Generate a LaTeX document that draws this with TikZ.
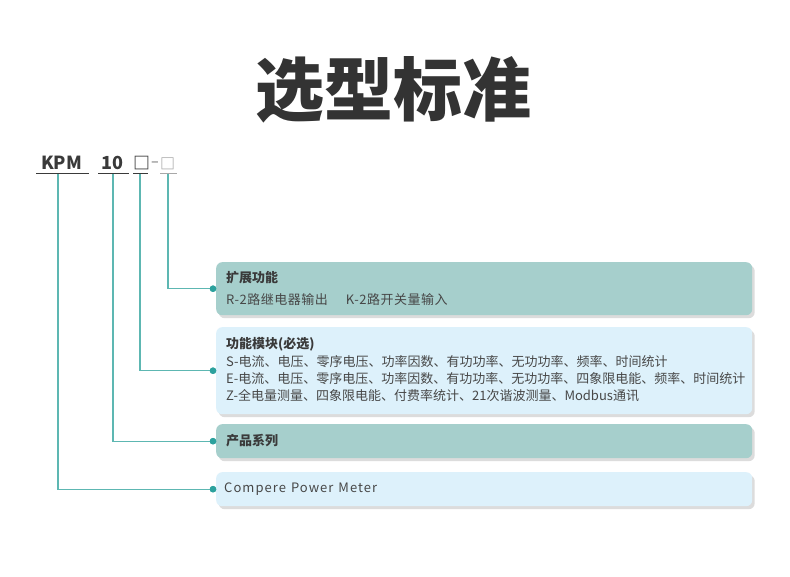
\documentclass[tikz,border=0pt]{standalone}
\usepackage{fontspec}
\setmainfont{Noto Sans CJK SC}
\usetikzlibrary{shadows}
\definecolor{tealbox}{HTML}{A6CFCC}
\definecolor{bluebox}{HTML}{DDF1FB}
\definecolor{lineteal}{HTML}{5DB7B2}
\definecolor{dotteal}{HTML}{2CA19D}
\definecolor{txt}{HTML}{474747}
\definecolor{titlec}{HTML}{333333}
\definecolor{hdr}{HTML}{3A3A3A}
\definecolor{lightg}{HTML}{A8A8A8}
\definecolor{shadowc}{HTML}{DCDCDC}
\tikzset{
  card/.style={rounded corners=6pt, inner sep=0pt, minimum width=536pt, anchor=north west,
    drop shadow={shadow xshift=2.5pt, shadow yshift=-3pt, fill=shadowc, opacity=1}},
  dotmark/.style={circle, fill=dotteal, inner sep=0pt, minimum size=6.5pt},
  conn/.style={draw=lineteal, line width=1.4pt},
  uline/.style={draw=#1, line width=1.6pt},
  body/.style={anchor=west, inner sep=0pt, text=txt, font=\fontsize{13}{13}\selectfont},
  head/.style={anchor=west, inner sep=0pt, text=hdr, font=\fontsize{13}{13}\selectfont\bfseries},
}
\begin{document}
\begin{tikzpicture}[x=1pt,y=-1pt]
\useasboundingbox[fill=white] (0,0) rectangle (790,577);

% title
\node[inner sep=0pt, text=titlec, font=\fontsize{69}{69}\selectfont\bfseries] (title) at (393,90) {选型标准};

% model code
\node[anchor=base west, inner sep=0pt, text=hdr, font=\fontsize{18}{18}\selectfont\bfseries] (kpm) at (41,170) {KPM};
\node[anchor=base west, inner sep=0pt, text=hdr, font=\fontsize{18}{18}\selectfont\bfseries] (ten) at (101,170) {10};
\node[inner sep=0pt, text=hdr, font=\fontsize{17}{17}\selectfont\bfseries] (sq1) at (141.5,163.5) {□};
\node[inner sep=0pt, text=lightg, font=\fontsize{14}{14}\selectfont\bfseries] (dash) at (155,164) {–};
\node[inner sep=0pt, text=lightg, font=\fontsize{15}{15}\selectfont\bfseries] (sq2) at (167.5,164) {□};

% underlines
\draw[uline=hdr] (36,173.5) -- (89,173.5);
\draw[uline=hdr] (98,173.5) -- (129,173.5);
\draw[uline=hdr] (133,173.5) -- (148,173.5);
\draw[uline=lightg] (160,173.5) -- (177,173.5);

\coordinate (cK) at (58,174.5);
\coordinate (cT) at (113,174.5);
\coordinate (cS) at (140,174.5);
\coordinate (cX) at (168,174.5);

% boxes
\node[card, fill=tealbox, minimum height=53pt] (b1) at (216,262) {};
\node[card, fill=bluebox, minimum height=87pt] (b2) at (216,327) {};
\node[card, fill=tealbox, minimum height=34pt] (b3) at (216,424) {};
\node[card, fill=bluebox, minimum height=34pt] (b4) at (216,472) {};

% texts
\node[head] (t1) at (226,278) {扩展功能};
\node[body, font=\fontsize{13}{13}\selectfont\addfontfeature{LetterSpace=4}] (t1b) at (226,300) {R-2路继电器输出\hspace{18pt}K-2路开关量输入};

\node[head] (t2) at (226,344) {功能模块(必选)};
\node[body] (t2a) at (226,361.5) {S-电流、电压、零序电压、功率因数、有功功率、无功功率、频率、时间统计};
\node[body] (t2b) at (226,378.5) {E-电流、电压、零序电压、功率因数、有功功率、无功功率、四象限电能、频率、时间统计};
\node[body] (t2c) at (226,395.5) {Z-全电量测量、四象限电能、付费率统计、21次谐波测量、Modbus通讯};

\node[head] (t3) at (226,441) {产品系列};
\node[body, font=\fontsize{13}{13}\selectfont\addfontfeature{LetterSpace=8}] (t4) at (224,489) {Compere\hspace{5pt}Power\hspace{5pt}Meter};

% connectors
\node[dotmark] (d1) at ([xshift=-3pt]b1.west) {};
\node[dotmark] (d2) at ([xshift=-3pt]b2.west) {};
\node[dotmark] (d3) at ([xshift=-3pt]b3.west) {};
\node[dotmark] (d4) at ([xshift=-3pt]b4.west) {};

\draw[conn] (cX) |- (d1.center);
\draw[conn] (cS) |- (d2.center);
\draw[conn] (cT) |- (d3.center);
\draw[conn] (cK) |- (d4.center);
\node[dotmark] at (d1) {};
\node[dotmark] at (d2) {};
\node[dotmark] at (d3) {};
\node[dotmark] at (d4) {};
\end{tikzpicture}
\end{document}
